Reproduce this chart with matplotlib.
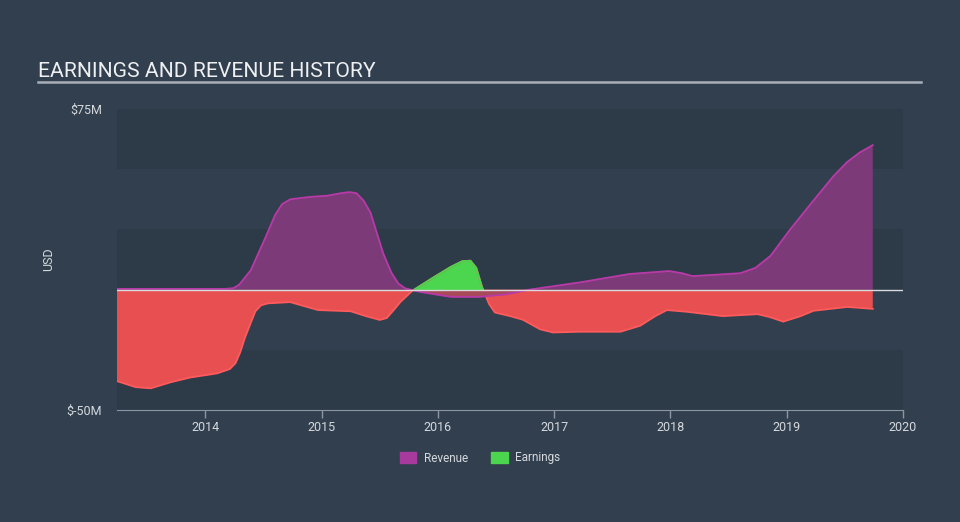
import numpy as np
import matplotlib.pyplot as plt
from matplotlib.patches import Patch, Rectangle

plt.rcParams['font.family'] = ['Roboto', 'DejaVu Sans']

# revenue history (USD millions)
rev_t = [2013.24, 2013.79, 2014.17, 2014.24, 2014.29, 2014.39, 2014.52, 2014.60,
         2014.66, 2014.73, 2014.90, 2015.05, 2015.16, 2015.24, 2015.30, 2015.36,
         2015.42, 2015.53, 2015.60, 2015.66, 2015.72, 2015.85, 2016.11, 2016.36,
         2016.58, 2016.79, 2017.22, 2017.65, 2017.99, 2018.10, 2018.19, 2018.60,
         2018.73, 2018.86, 2019.03, 2019.23, 2019.40, 2019.52, 2019.63, 2019.74]
rev_v = [0.3, 0.3, 0.3, 0.6, 2.0, 8.0, 22.0, 31.0,
         35.5, 37.5, 38.5, 39.0, 40.0, 40.5, 40.0, 37.0,
         32.0, 15.0, 7.0, 2.5, 0.5, -1.0, -3.0, -3.0,
         -2.0, 0.0, 3.0, 6.5, 7.7, 6.8, 5.6, 6.8,
         9.0, 14.0, 25.0, 37.0, 47.0, 53.0, 57.0, 60.0]

# earnings history (USD millions)
earn_t = [2013.24, 2013.40, 2013.53, 2013.70, 2013.87, 2014.10, 2014.21, 2014.26,
          2014.30, 2014.34, 2014.43, 2014.48, 2014.54, 2014.73, 2014.86, 2014.97,
          2015.25, 2015.38, 2015.50, 2015.56, 2015.62, 2015.68, 2015.78, 2015.96,
          2016.11, 2016.21, 2016.28, 2016.33, 2016.38, 2016.44, 2016.49, 2016.62,
          2016.73, 2016.88, 2016.99, 2017.22, 2017.57, 2017.74, 2017.87, 2017.97,
          2018.14, 2018.45, 2018.75, 2018.86, 2018.97, 2019.12, 2019.23, 2019.52,
          2019.74]
earn_v = [-38.0, -40.5, -41.0, -38.5, -36.5, -34.8, -33.0, -30.5,
          -26.0, -20.0, -9.0, -6.5, -5.7, -5.2, -7.0, -8.5,
          -9.0, -11.0, -12.6, -11.8, -8.5, -5.0, -0.5, 5.0,
          9.4, 11.8, 12.0, 9.0, 1.0, -6.0, -9.5, -11.0,
          -12.5, -16.5, -17.8, -17.5, -17.5, -15.0, -11.0, -8.5,
          -9.2, -11.0, -10.2, -11.5, -13.3, -11.0, -8.8, -7.2,
          -8.0]

years = [2014, 2015, 2016, 2017, 2018, 2019, 2020]

bg = '#323f4e'
band = '#2d3a48'
txt = '#d5d9de'

fig = plt.figure(figsize=(9.6, 5.22), dpi=100, facecolor=bg)
ax = fig.add_axes([117/960, 1 - 410/522, 786/960, 301/522])
ax.set_facecolor(bg)

for lo in (50, 0, -50):
    ax.axhspan(lo, lo + 25, color=band, lw=0, zorder=0)

rt = np.array(rev_t)
rv = np.array(rev_v)
et = np.array(earn_t)
ev = np.array(earn_v)

# earnings
ax.fill_between(et, ev, 0, where=ev <= 0, interpolate=True,
                color='#e84f50', lw=0, zorder=2)
ax.fill_between(et, ev, 0, where=ev >= 0, interpolate=True,
                color='#4cd54e', lw=0, zorder=2)
l_red, = ax.plot(et, ev, color='#ff5a5c', lw=1.3, zorder=3)
l_grn, = ax.plot(et, ev, color='#4cd54e', lw=1.3, zorder=4)
l_grn.set_clip_path(Rectangle((2013, 0), 8, 100, transform=ax.transData))

# revenue
ax.fill_between(rt, rv, 0, where=rv >= 0, interpolate=True,
                color='#7c3a78', lw=0, zorder=5)
ax.fill_between(rt, rv, 0, where=rv <= 0, interpolate=True,
                color='#a84a58', lw=0, zorder=5)
ax.plot(rt, rv, color='#b83aa8', lw=1.3, zorder=6)

ax.axhline(0, color='#d8dce0', lw=1, zorder=7)

ax.set_xlim(2013.24, 2020.0)
ax.set_ylim(-50, 75)

ax.set_xticks(years)
ax.set_xticklabels([str(y) for y in years])
ax.set_yticks([-50, 75])
ax.set_yticklabels(['$-50M', '$75M'])
ax.tick_params(axis='x', colors='#8a96a4', length=6, width=1, labelcolor=txt,
               labelsize=9, pad=2)
ax.tick_params(axis='y', length=0, labelcolor=txt, labelsize=9, pad=11)
for s in ('top', 'left', 'right'):
    ax.spines[s].set_visible(False)
ax.spines['bottom'].set_color('#8a96a4')
ax.set_ylabel('USD', color=txt, fontsize=9, labelpad=8)

fig.text(38/960, 1 - 77/522, 'EARNINGS AND REVENUE HISTORY', color='#eef0f2',
         fontsize=15.2, ha='left', va='baseline')
fig.add_artist(plt.Line2D([38/960, 921/960], [1 - 82/522, 1 - 82/522],
                          color='#a8afb8', lw=1.8))

handles = [Patch(color='#a83a9e', label='Revenue'),
           Patch(color='#4cd54e', label='Earnings')]
leg = fig.legend(handles=handles, loc='center', bbox_to_anchor=(0.5, 1 - 458/522),
                 ncol=2, frameon=False, fontsize=8.5, handlelength=1.4,
                 handleheight=1.1, columnspacing=2.0, handletextpad=0.6)
for t in leg.get_texts():
    t.set_color(txt)

fig.savefig('out.png', dpi=100, facecolor=bg)
